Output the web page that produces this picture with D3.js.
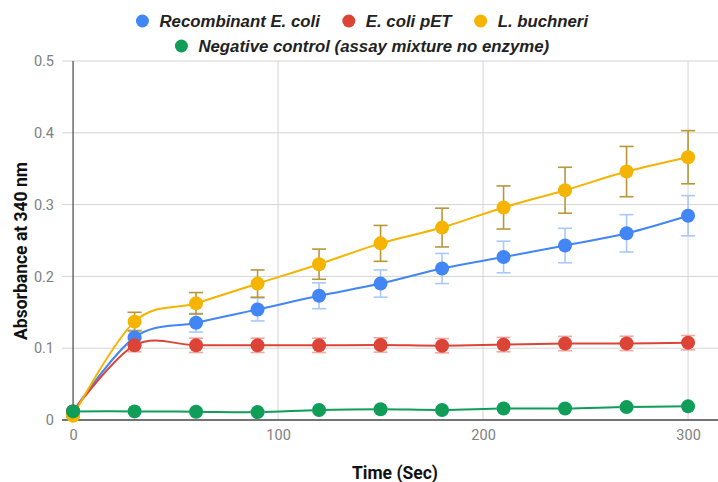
<!DOCTYPE html>
<html>
<head>
<meta charset="utf-8">
<script src="https://cdn.jsdelivr.net/npm/d3@7"></script>
<style>
  html, body { margin: 0; padding: 0; background: #fff; }
  svg { display: block; font-family: Roboto, "Noto Sans", Arial, sans-serif; }
</style>
</head>
<body>
<svg id="chart" width="718" height="482"></svg>
<script>
// ---- data ----
const times = [0, 30, 60, 90, 120, 150, 180, 210, 240, 270, 300];
const seriesNames = ["Recombinant E. coli", "E. coli pET", "L. buchneri", "Negative control (assay mixture no enzyme)"];
const recombinant = [0.012, 0.115, 0.1355, 0.154, 0.173, 0.190, 0.211, 0.227, 0.243, 0.260, 0.2845];
const recombinantErr = [0.002, 0.010, 0.013, 0.016, 0.018, 0.019, 0.021, 0.022, 0.024, 0.026, 0.028];
const pet = [0.012, 0.104, 0.104, 0.104, 0.104, 0.1045, 0.1035, 0.105, 0.1065, 0.1067, 0.1077];
const petErr = [0.002, 0.009, 0.010, 0.010, 0.010, 0.010, 0.010, 0.010, 0.010, 0.010, 0.010];
const buchneri = [0.006, 0.137, 0.1625, 0.190, 0.217, 0.246, 0.268, 0.296, 0.320, 0.346, 0.366];
const buchneriErr = [0.002, 0.013, 0.015, 0.019, 0.021, 0.025, 0.027, 0.030, 0.032, 0.035, 0.037];
const negative = [0.012, 0.012, 0.0115, 0.011, 0.014, 0.015, 0.014, 0.016, 0.016, 0.018, 0.019];
const negativeErr = [0.001, 0.001, 0.001, 0.001, 0.001, 0.001, 0.001, 0.001, 0.001, 0.001, 0.001];
const xTicks = [0, 100, 200, 300];
const yTicks = [0, 0.1, 0.2, 0.3, 0.4, 0.5];
const colors = ["#4285F4", "#DB4437", "#F4B400", "#0F9D58"];
const errColors = ["#A9C8FB", "#F1A9A2", "#B8963A", "#7FCBA5"];

const series = [
  { name: seriesNames[0], values: recombinant, err: recombinantErr },
  { name: seriesNames[1], values: pet, err: petErr },
  { name: seriesNames[2], values: buchneri, err: buchneriErr },
  { name: seriesNames[3], values: negative, err: negativeErr }
];

// ---- layout ----
const svg = d3.select("#chart");
const pL = 62, pR = 718, pT = 61, pB = 420;

const x = d3.scaleLinear().domain([-5.4, 314.6]).range([pL, pR]);
const y = d3.scaleLinear().domain([0, 0.5]).range([pB, pT]);

// grid
const g = svg.append("g");
g.selectAll(".hgrid").data(yTicks.filter(d => d > 0)).enter().append("line")
  .attr("x1", pL).attr("x2", pR)
  .attr("y1", d => y(d)).attr("y2", d => y(d))
  .attr("stroke", "#d4d4d4").attr("stroke-width", 1);
g.selectAll(".vgrid").data(xTicks.filter(d => d > 0)).enter().append("line")
  .attr("x1", d => x(d)).attr("x2", d => x(d))
  .attr("y1", pT).attr("y2", pB)
  .attr("stroke", "#d4d4d4").attr("stroke-width", 1);

// axes via d3 axis (labels only)
const yAxis = d3.axisLeft(y).tickValues(yTicks).tickSize(0).tickPadding(0)
  .tickFormat(d => d === 0 ? "0" : d3.format(".1f")(d));
const ya = svg.append("g").attr("transform", `translate(${pL - 8},0)`).call(yAxis);
ya.select(".domain").remove();
ya.selectAll("text").attr("fill", "#808080").style("font-size", "14.5px").style("font-family", "Roboto");

const xAxis = d3.axisBottom(x).tickValues(xTicks).tickSize(0).tickPadding(0).tickFormat(d3.format("d"));
const xa = svg.append("g").attr("transform", `translate(0,${pB + 10})`).call(xAxis);
xa.select(".domain").remove();
xa.selectAll("text").attr("fill", "#808080").style("font-size", "14.5px").style("font-family", "Roboto");

// baselines
svg.append("line").attr("x1", x(0)).attr("x2", x(0)).attr("y1", pT).attr("y2", pB)
  .attr("stroke", "#444").attr("stroke-width", 1.2);
svg.append("line").attr("x1", pL).attr("x2", pR).attr("y1", pB).attr("y2", pB)
  .attr("stroke", "#444").attr("stroke-width", 1.5);

// lines
const line = d3.line()
  .x((d, i) => x(times[i]))
  .y(d => y(d))
  .curve(d3.curveCardinal.tension(0));

series.forEach((s, si) => {
  svg.append("path").datum(s.values)
    .attr("d", line).attr("fill", "none")
    .attr("stroke", colors[si]).attr("stroke-width", 2);
});

// error bars
series.forEach((s, si) => {
  const eg = svg.append("g").attr("stroke", errColors[si]).attr("stroke-width", 1.6);
  s.values.forEach((v, i) => {
    const cx = x(times[i]);
    const y1 = y(v + s.err[i]), y2 = y(Math.max(0, v - s.err[i]));
    eg.append("line").attr("x1", cx).attr("x2", cx).attr("y1", y1).attr("y2", y2);
    eg.append("line").attr("x1", cx - 7).attr("x2", cx + 7).attr("y1", y1).attr("y2", y1);
    eg.append("line").attr("x1", cx - 7).attr("x2", cx + 7).attr("y1", y2).attr("y2", y2);
  });
});

// points
series.forEach((s, si) => {
  svg.append("g").selectAll("circle").data(s.values).enter().append("circle")
    .attr("cx", (d, i) => x(times[i])).attr("cy", d => y(d))
    .attr("r", 7).attr("fill", colors[si]);
});

// legend
function legendRow(items, cy) {
  const row = svg.append("g");
  const parts = [];
  items.forEach(it => {
    const gi = row.append("g");
    gi.append("circle").attr("cx", 0).attr("cy", cy).attr("r", 6.5).attr("fill", colors[it]);
    const t = gi.append("text").attr("x", 17).attr("y", cy).attr("dy", "0.36em")
      .style("font-family", "'Liberation Sans', Arial, sans-serif")
      .style("font-size", "16.8px").style("font-weight", "bold").style("font-style", "italic")
      .attr("fill", "#222").text(seriesNames[it]);
    const w = 17 + t.node().getComputedTextLength();
    parts.push({ gi, w });
  });
  const gap = 29;
  const total = parts.reduce((a, p) => a + p.w, 0) + gap * (parts.length - 1) + 6.5;
  let start = 362 - total / 2 + 6.5;
  parts.forEach(p => {
    p.gi.attr("transform", `translate(${start},0)`);
    start += p.w + gap;
  });
}
legendRow([0, 1, 2], 21);
legendRow([3], 46);

// axis titles
svg.append("text").attr("x", 395).attr("y", 473).attr("dy", "0.35em").attr("text-anchor", "middle")
  .style("font-size", "17.5px").style("font-weight", "bold").attr("fill", "#111").text("Time (Sec)");
svg.append("text").attr("transform", `translate(21,251) rotate(-90)`)
  .attr("text-anchor", "middle").attr("dy", "0.35em")
  .style("font-size", "17.5px").style("font-weight", "bold").attr("fill", "#111").text("Absorbance at 340 nm");
</script>
</body>
</html>
